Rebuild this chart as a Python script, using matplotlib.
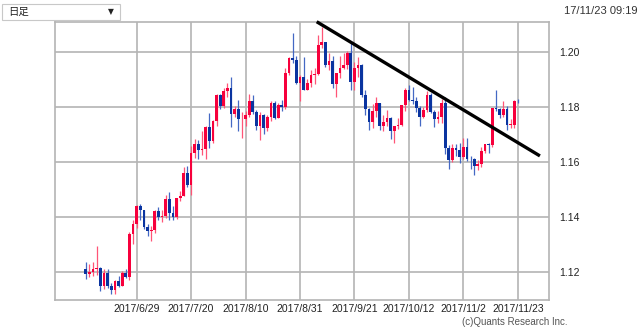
import matplotlib
matplotlib.use('Agg')
import matplotlib.pyplot as plt
import numpy as np
import pandas as pd
from matplotlib.patches import Rectangle

# ---------------- data ----------------
dates = pd.bdate_range('2017-06-09', '2017-11-23')

opens = [1.1212, 1.1193, 1.1200, 1.1210, 1.1215, 1.1150, 1.1197, 1.1148, 1.1133, 1.1166,
         1.1150, 1.1195, 1.1182, 1.1338, 1.1375, 1.1440, 1.1425, 1.1364, 1.1349, 1.1353,
         1.1423, 1.1400, 1.1402, 1.1467, 1.1415, 1.1399, 1.1469, 1.1478, 1.1560, 1.1515,
         1.1633, 1.1665, 1.1642, 1.1646, 1.1728, 1.1676, 1.1750, 1.1842, 1.1803, 1.1859,
         1.1868, 1.1775, 1.1791, 1.1755, 1.1757, 1.1770, 1.1822, 1.1780, 1.1730, 1.1770,
         1.1725, 1.1762, 1.1814, 1.1761, 1.1808, 1.1800, 1.1924, 1.1977, 1.1972, 1.1886,
         1.1910, 1.1860, 1.1887, 1.1916, 1.1920, 1.2024, 1.2036, 1.1952, 1.1966, 1.1885,
         1.1922, 1.1942, 1.1952, 1.1995, 1.1891, 1.1940, 1.1951, 1.1845, 1.1792, 1.1744,
         1.1787, 1.1814, 1.1730, 1.1744, 1.1761, 1.1711, 1.1730, 1.1735, 1.1808, 1.1860,
         1.1826, 1.1820, 1.1795, 1.1765, 1.1789, 1.1843, 1.1782, 1.1756, 1.1762, 1.1815,
         1.1650, 1.1608, 1.1650, 1.1645, 1.1617, 1.1654, 1.1610, 1.1609, 1.1586, 1.1592,
         1.1639, 1.1664, 1.1662, 1.1795, 1.1792, 1.1770, 1.1792, 1.1734, 1.1735, 1.1823]
highs = [1.1236, 1.1230, 1.1235, 1.1296, 1.1218, 1.1209, 1.1212, 1.1160, 1.1170, 1.1187,
         1.1202, 1.1212, 1.1345, 1.1389, 1.1445, 1.1448, 1.1426, 1.1373, 1.1368, 1.1424,
         1.1435, 1.1427, 1.1480, 1.1490, 1.1440, 1.1469, 1.1493, 1.1583, 1.1584, 1.1658,
         1.1683, 1.1681, 1.1712, 1.1730, 1.1777, 1.1753, 1.1846, 1.1846, 1.1868, 1.1888,
         1.1910, 1.1805, 1.1827, 1.1780, 1.1785, 1.1846, 1.1845, 1.1790, 1.1781, 1.1774,
         1.1770, 1.1822, 1.1822, 1.1815, 1.1825, 1.1940, 1.1983, 1.2070, 1.1986, 1.1916,
         1.1980, 1.1900, 1.1936, 1.1941, 1.2060, 1.2092, 1.2037, 1.1996, 1.1985, 1.1925,
         1.1985, 1.1995, 1.2004, 1.2034, 1.1962, 1.1982, 1.1955, 1.1860, 1.1797, 1.1811,
         1.1835, 1.1815, 1.1770, 1.1790, 1.1765, 1.1730, 1.1760, 1.1808, 1.1870, 1.1880,
         1.1873, 1.1835, 1.1805, 1.1800, 1.1858, 1.1850, 1.1788, 1.1785, 1.1830, 1.1838,
         1.1660, 1.1667, 1.1667, 1.1670, 1.1687, 1.1688, 1.1621, 1.1614, 1.1607, 1.1656,
         1.1664, 1.1669, 1.1794, 1.1861, 1.1795, 1.1820, 1.1805, 1.1757, 1.1826, 1.1830]
lows = [1.1176, 1.1180, 1.1185, 1.1190, 1.1131, 1.1137, 1.1140, 1.1119, 1.1120, 1.1145,
        1.1150, 1.1178, 1.1170, 1.1300, 1.1360, 1.1390, 1.1358, 1.1332, 1.1312, 1.1340,
        1.1390, 1.1380, 1.1396, 1.1390, 1.1390, 1.1392, 1.1457, 1.1475, 1.1510, 1.1479,
        1.1613, 1.1612, 1.1625, 1.1611, 1.1650, 1.1670, 1.1729, 1.1794, 1.1797, 1.1835,
        1.1728, 1.1763, 1.1711, 1.1688, 1.1730, 1.1762, 1.1775, 1.1716, 1.1680, 1.1703,
        1.1711, 1.1750, 1.1756, 1.1760, 1.1787, 1.1794, 1.1918, 1.1960, 1.1885, 1.1823,
        1.1860, 1.1860, 1.1872, 1.1885, 1.1915, 1.2015, 1.1945, 1.1935, 1.1868, 1.1838,
        1.1907, 1.1937, 1.1938, 1.1860, 1.1861, 1.1910, 1.1837, 1.1770, 1.1718, 1.1722,
        1.1765, 1.1716, 1.1714, 1.1730, 1.1685, 1.1668, 1.1720, 1.1732, 1.1786, 1.1823,
        1.1812, 1.1782, 1.1730, 1.1760, 1.1780, 1.1778, 1.1728, 1.1740, 1.1740, 1.1630,
        1.1574, 1.1600, 1.1620, 1.1595, 1.1609, 1.1605, 1.1574, 1.1554, 1.1570, 1.1583,
        1.1634, 1.1631, 1.1653, 1.1786, 1.1760, 1.1765, 1.1715, 1.1722, 1.1725, 1.1815]
closes = [1.1193, 1.1200, 1.1210, 1.1215, 1.1150, 1.1197, 1.1148, 1.1133, 1.1166, 1.1150,
          1.1195, 1.1182, 1.1338, 1.1375, 1.1440, 1.1425, 1.1364, 1.1349, 1.1353, 1.1423,
          1.1400, 1.1402, 1.1467, 1.1415, 1.1399, 1.1469, 1.1478, 1.1560, 1.1515, 1.1633,
          1.1665, 1.1642, 1.1646, 1.1728, 1.1676, 1.1750, 1.1842, 1.1803, 1.1859, 1.1868,
          1.1775, 1.1791, 1.1755, 1.1757, 1.1770, 1.1822, 1.1780, 1.1730, 1.1770, 1.1725,
          1.1762, 1.1814, 1.1761, 1.1808, 1.1800, 1.1924, 1.1977, 1.1972, 1.1886, 1.1910,
          1.1860, 1.1887, 1.1916, 1.1920, 1.2024, 1.2036, 1.1952, 1.1966, 1.1885, 1.1922,
          1.1942, 1.1952, 1.1995, 1.1891, 1.1940, 1.1951, 1.1845, 1.1792, 1.1744, 1.1787,
          1.1814, 1.1730, 1.1744, 1.1761, 1.1711, 1.1730, 1.1735, 1.1808, 1.1860, 1.1826,
          1.1820, 1.1795, 1.1765, 1.1789, 1.1843, 1.1782, 1.1756, 1.1762, 1.1815, 1.1650,
          1.1608, 1.1650, 1.1645, 1.1617, 1.1654, 1.1610, 1.1609, 1.1586, 1.1592, 1.1639,
          1.1664, 1.1662, 1.1795, 1.1792, 1.1770, 1.1792, 1.1734, 1.1735, 1.1823, 1.1820]

tick_dates = ['2017-06-29', '2017-07-20', '2017-08-10', '2017-08-31',
              '2017-09-21', '2017-10-12', '2017-11-02', '2017-11-23']
tick_labels = ['2017/6/29', '2017/7/20', '2017/8/10', '2017/8/31',
               '2017/9/21', '2017/10/12', '2017/11/2', '2017/11/23']
y_ticks = [1.12, 1.14, 1.16, 1.18, 1.20]
y_labels = ['1.12', '1.14', '1.16', '1.18', '1.20']

# trend line (trading-day index, price)
trend_x = [63.6, 125.1]
trend_y = [1.2110, 1.1622]

# ---------------- figure ----------------
W, H = 640, 333
fig = plt.figure(figsize=(W / 100, H / 100), dpi=100)
fig.patch.set_facecolor('white')

L, R, T, B = 55, 549, 22, 300
ax = fig.add_axes([L / W, 1 - B / H, (R - L) / W, (B - T) / H])

o = np.array(opens); h = np.array(highs); lo = np.array(lows); c = np.array(closes)
x = np.arange(len(o))
up = c >= o
red = '#f7003c'
blue = '#0a34a0'
colors = np.where(up, red, blue)
wick_colors = np.where(up, '#ff5577', '#4468c4')

ax.vlines(x, lo, h, colors=wick_colors, linewidth=0.9, zorder=3)
bottoms = np.minimum(o, c)
heights = np.maximum(np.abs(c - o), 0.00025)
ax.bar(x, heights, bottom=bottoms, width=0.76, color=colors, linewidth=0, zorder=4)

ax.plot(trend_x, trend_y, color='black', linewidth=2.4, solid_capstyle='butt', zorder=6,
        clip_on=False)

ax.set_xlim(-8.5, 127.6)
ax.set_ylim(1.1098, 1.2109)

date_idx = {d.strftime('%Y-%m-%d'): i for i, d in enumerate(dates)}
xt = [date_idx[d] for d in tick_dates]
ax.set_xticks(xt)
ax.set_xticklabels(tick_labels, fontsize=7.5, family='Liberation Sans', color='#222222')
ax.yaxis.tick_right()
ax.set_yticks(y_ticks)
ax.set_yticklabels(y_labels, fontsize=7.5, family='Liberation Sans', color='#222222')
ax.tick_params(axis='both', length=0)
ax.tick_params(axis='x', pad=3)
ax.tick_params(axis='y', pad=7)

ax.grid(True, color='#b4b4b4', linewidth=1.2, zorder=0)
ax.set_axisbelow(True)
for s in ax.spines.values():
    s.set_color('#b4b4b4')
    s.set_linewidth(1.2)

# dropdown box
box = Rectangle((2 / W, 1 - 20 / H), 118 / W, 16 / H, transform=fig.transFigure,
                facecolor='white', edgecolor='#c8c8c8', linewidth=0.8)
fig.patches.append(box)
fig.text(8 / W, 1 - 12 / H, '日足', fontsize=7.5, va='center', ha='left',
         family=['Noto Sans CJK JP', 'DejaVu Sans'], color='#222222')
fig.text(111 / W, 1 - 12 / H, '▼', fontsize=5.5, va='center', ha='center',
         family='DejaVu Sans', color='#222222')

fig.text(637 / W, 1 - 11 / H, '17/11/23 09:19', fontsize=8, va='center', ha='right',
         family='Liberation Sans', color='#333333')
fig.text(568 / W, 1 - 322 / H, '(c)Quants Research Inc.', fontsize=7, va='center',
         ha='right', family='Liberation Sans', color='#555555')

fig.savefig('out.png', dpi=100, facecolor='white')
